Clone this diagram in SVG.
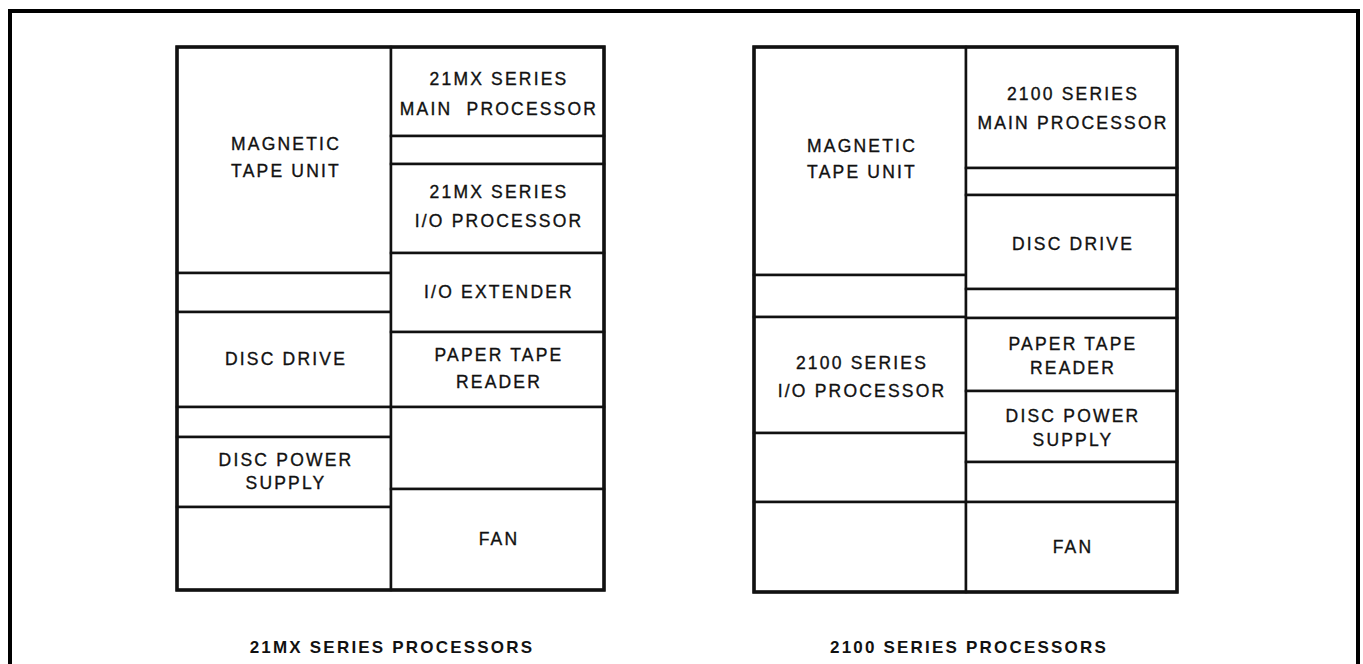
<svg xmlns="http://www.w3.org/2000/svg" width="1363" height="664" viewBox="0 0 1363 664">
<style>
.frame{fill:none;stroke:#000;stroke-width:4}
.cab{fill:none;stroke:#111;stroke-width:3.5}
.cell{fill:#fff;stroke:#111;stroke-width:2.5}
.lbl{font-family:"Liberation Sans",Arial,sans-serif;font-size:17.5px;letter-spacing:2.2px;text-anchor:middle;fill:#111;stroke:#111;stroke-width:0.35}
.ttl{font-family:"Liberation Sans",Arial,sans-serif;font-size:17px;font-weight:bold;letter-spacing:2.2px;text-anchor:middle;fill:#111}
</style>
<rect width="1363" height="664" fill="#fff"/>
<path class="frame" d="M10,670 V11 H1358 V670"/>
<g id="cabinet-21mx">
<g id="l-mag"><rect class="cell" x="177" y="47" width="214" height="226"/><text class="lbl" x="286" y="150">MAGNETIC</text><text class="lbl" x="286" y="177">TAPE UNIT</text></g>
<g id="l-e1"><rect class="cell" x="177" y="273" width="214" height="39"/></g>
<g id="l-disc"><rect class="cell" x="177" y="312" width="214" height="95"/><text class="lbl" x="286" y="365">DISC DRIVE</text></g>
<g id="l-e2"><rect class="cell" x="177" y="407" width="214" height="30"/></g>
<g id="l-dps"><rect class="cell" x="177" y="437" width="214" height="70"/><text class="lbl" x="286" y="466">DISC POWER</text><text class="lbl" x="286" y="489">SUPPLY</text></g>
<g id="l-e3"><rect class="cell" x="177" y="507" width="214" height="83"/></g>
<g id="l-main"><rect class="cell" x="391" y="47" width="213" height="89"/><text class="lbl" x="499" y="85">21MX SERIES</text><text class="lbl" x="499" y="115" xml:space="preserve">MAIN  PROCESSOR</text></g>
<g id="l-e4"><rect class="cell" x="391" y="136" width="213" height="28"/></g>
<g id="l-io"><rect class="cell" x="391" y="164" width="213" height="89"/><text class="lbl" x="499" y="198">21MX SERIES</text><text class="lbl" x="499" y="227">I/O PROCESSOR</text></g>
<g id="l-ext"><rect class="cell" x="391" y="253" width="213" height="79"/><text class="lbl" x="499" y="298">I/O EXTENDER</text></g>
<g id="l-ptr"><rect class="cell" x="391" y="332" width="213" height="75"/><text class="lbl" x="499" y="361">PAPER TAPE</text><text class="lbl" x="499" y="388">READER</text></g>
<g id="l-e5"><rect class="cell" x="391" y="407" width="213" height="82"/></g>
<g id="l-fan"><rect class="cell" x="391" y="489" width="213" height="101"/><text class="lbl" x="499" y="545">FAN</text></g>
<rect class="cab" x="177" y="47" width="427" height="543"/>
<text class="ttl" x="392" y="653">21MX SERIES PROCESSORS</text>
</g>
<g id="cabinet-2100">
<g id="r-mag"><rect class="cell" x="754" y="47" width="212" height="228"/><text class="lbl" x="862" y="152">MAGNETIC</text><text class="lbl" x="862" y="178">TAPE UNIT</text></g>
<g id="r-e1"><rect class="cell" x="754" y="275" width="212" height="42"/></g>
<g id="r-io"><rect class="cell" x="754" y="317" width="212" height="116"/><text class="lbl" x="862" y="369">2100 SERIES</text><text class="lbl" x="862" y="397">I/O PROCESSOR</text></g>
<g id="r-e2"><rect class="cell" x="754" y="433" width="212" height="69"/></g>
<g id="r-e3"><rect class="cell" x="754" y="502" width="212" height="90"/></g>
<g id="r-main"><rect class="cell" x="966" y="47" width="211" height="121"/><text class="lbl" x="1073" y="100">2100 SERIES</text><text class="lbl" x="1073" y="129">MAIN PROCESSOR</text></g>
<g id="r-e4"><rect class="cell" x="966" y="168" width="211" height="27"/></g>
<g id="r-disc"><rect class="cell" x="966" y="195" width="211" height="94"/><text class="lbl" x="1073" y="250">DISC DRIVE</text></g>
<g id="r-e5"><rect class="cell" x="966" y="289" width="211" height="29"/></g>
<g id="r-ptr"><rect class="cell" x="966" y="318" width="211" height="73"/><text class="lbl" x="1073" y="350">PAPER TAPE</text><text class="lbl" x="1073" y="374">READER</text></g>
<g id="r-dps"><rect class="cell" x="966" y="391" width="211" height="71"/><text class="lbl" x="1073" y="422">DISC POWER</text><text class="lbl" x="1073" y="446">SUPPLY</text></g>
<g id="r-e6"><rect class="cell" x="966" y="462" width="211" height="40"/></g>
<g id="r-fan"><rect class="cell" x="966" y="502" width="211" height="90"/><text class="lbl" x="1073" y="553">FAN</text></g>
<rect class="cab" x="754" y="47" width="423" height="545"/>
<text class="ttl" x="969" y="653">2100 SERIES PROCESSORS</text>
</g>
<g id="connectors"/>
</svg>
